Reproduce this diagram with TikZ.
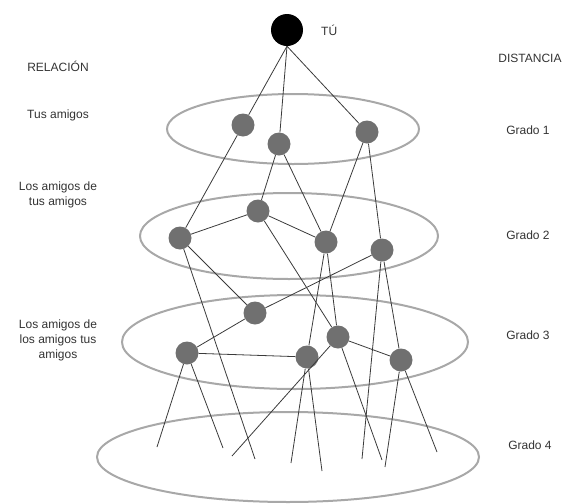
\documentclass[tikz,border=0pt]{standalone}
\usepackage{fontspec}
\setmainfont{Liberation Sans}
\definecolor{nodegray}{HTML}{707070}
\definecolor{ringgray}{HTML}{A8A8A8}
\definecolor{edgegray}{HTML}{3A3A3A}
\definecolor{textgray}{HTML}{333333}
\begin{document}
\begin{tikzpicture}[x=1pt,y=-1pt,
  person/.style={circle,fill=nodegray,minimum size=23pt,inner sep=0pt},
  me/.style={circle,fill=black,minimum size=32pt,inner sep=0pt},
  ring/.style={draw=ringgray,line width=2pt},
  link/.style={draw=edgegray,line width=0.8pt},
  lbl/.style={text=textgray,font=\fontsize{12}{15}\selectfont,align=center,inner sep=0pt}]
\useasboundingbox (0,0) rectangle (566,504);
% rings
\draw[ring] (293,129) ellipse [x radius=126pt,y radius=35pt];
\draw[ring] (289,236) ellipse [x radius=149pt,y radius=43pt];
\draw[ring] (295,342) ellipse [x radius=173pt,y radius=47pt];
\draw[ring] (288,457) ellipse [x radius=191pt,y radius=45pt];
% nodes
\node[me] (tu) at (287,30) {};
\node[person] (a1) at (243,125) {};
\node[person] (a2) at (279,144) {};
\node[person] (a3) at (367,132) {};
\node[person] (b1) at (180,238) {};
\node[person] (b2) at (258,211) {};
\node[person] (b3) at (326,242) {};
\node[person] (b4) at (382,250) {};
\node[person] (c1) at (255,313) {};
\node[person] (c2) at (187,353) {};
\node[person] (c3) at (307,357) {};
\node[person] (c4) at (338,337) {};
\node[person] (c5) at (401,360) {};
% free ends in grade 4
\coordinate (e1) at (157,447);
\coordinate (e2) at (223,448);
\coordinate (e3) at (232,456);
\coordinate (e4) at (255,459);
\coordinate (e5) at (291,463);
\coordinate (e6) at (322,471);
\coordinate (e7) at (362,459);
\coordinate (e8) at (385,467);
\coordinate (e9) at (382,460);
\coordinate (e10) at (437,452);
% connectors
\draw[link] (tu.south) -- (a1);
\draw[link] (tu.south) -- (a2);
\draw[link] (tu.south) -- (a3);
\draw[link] (a1) -- (b1);
\draw[link] (a2) -- (b2);
\draw[link] (a2) -- (b3);
\draw[link] (a3) -- (b3);
\draw[link] (a3) -- (b4);
\draw[link] (b1) -- (b2);
\draw[link] (b2) -- (b3);
\draw[link] (b1) -- (c1);
\draw[link] (b1) -- (e4);
\draw[link] (b2) -- (c4);
\draw[link] (b3) -- (c3);
\draw[link] (b3) -- (c4);
\draw[link] (b4) -- (c1);
\draw[link] (b4) -- (e7);
\draw[link] (b4) -- (c5);
\draw[link] (c1) -- (c2);
\draw[link] (c2) -- (c3);
\draw[link] (c2) -- (e1);
\draw[link] (c2) -- (e2);
\draw[link] (c3) -- (e5);
\draw[link] (c3) -- (e6);
\draw[link] (c4) -- (e3);
\draw[link] (c4) -- (e9);
\draw[link] (c4) -- (c5);
\draw[link] (c5) -- (e8);
\draw[link] (c5) -- (e10);
% labels
\node[lbl,anchor=west] (tutext) at (321,30) {TÚ};
\node[lbl] (rel) at (58,66) {RELACIÓN};
\node[lbl] (l1) at (58,115) {Tus amigos};
\node[lbl] (l2) at (58,195) {Los amigos de\\tus amigos};
\node[lbl] (l3) at (58,340) {Los amigos de\\los amigos tus\\amigos};
\node[lbl] (dist) at (530,58) {DISTANCIA};
\node[lbl] (g1) at (528,130) {Grado 1};
\node[lbl] (g2) at (528,235) {Grado 2};
\node[lbl] (g3) at (528,335) {Grado 3};
\node[lbl] (g4) at (530,445) {Grado 4};
\end{tikzpicture}
\end{document}
